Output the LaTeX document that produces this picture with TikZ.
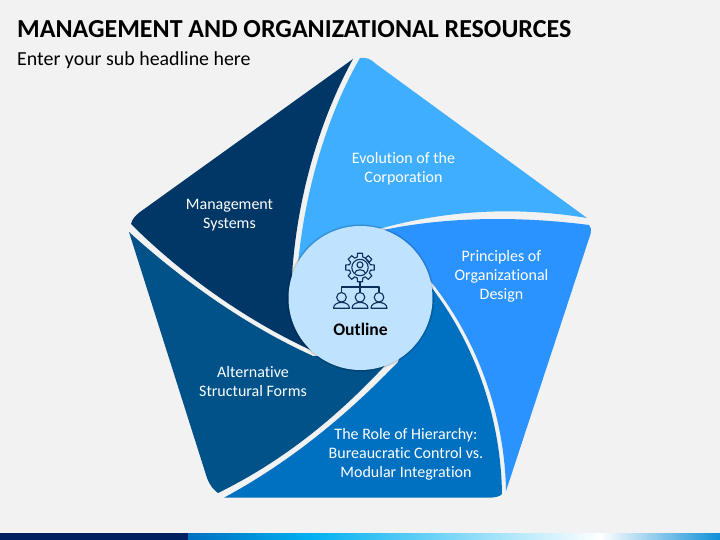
\documentclass[tikz,border=0pt]{standalone}
\usepackage{fontspec}
\setmainfont{Carlito}[Ligatures=NoCommon]
\usetikzlibrary{positioning}
\definecolor{pageback}{HTML}{F2F2F2}
\definecolor{navy}{HTML}{003767}
\definecolor{sky}{HTML}{3FAEFF}
\definecolor{azure}{HTML}{2B93FF}
\definecolor{royal}{HTML}{0070C0}
\definecolor{steel}{HTML}{005288}
\definecolor{hub}{HTML}{BFE3FF}
\definecolor{iconline}{HTML}{0B2F5B}
\definecolor{barnavy}{HTML}{002060}
\definecolor{barcyan}{HTML}{00B0F0}
\definecolor{barend}{HTML}{0F8FD8}
\newcommand\HubX{360.5}
\newcommand\HubY{298}

\begin{document}
\begin{tikzpicture}[x=1pt,y=-1pt,line join=round]

  \tikzstyle{petal label}=[text=white,align=center,font=\fontsize{16}{19.2}\selectfont]
  \tikzstyle{icon}=[draw=iconline,line width=1.1pt,fill=none]

  \useasboundingbox (0,0) rectangle (720,540);
  \fill[pageback] (0,0) rectangle (720,540);

  % bottom bar
  \fill[barnavy] (0,533) rectangle (188,540);
  \shade[left color=royal,right color=barcyan] (188,533) rectangle (310,540);
  \shade[left color=barcyan,right color=white] (310,533) rectangle (600,540);
  \shade[left color=white,right color=barend] (600,533) rectangle (720,540);

  % petals
  \fill[navy] (353,59) -- (140,212)
    .. controls (136,215) and (132,219) .. (131,224)
    .. controls (175,268) and (240,318) .. (315,352)
    -- (292,275)
    .. controls (298,185) and (325,110) .. (353,59) -- cycle;
  \fill[sky] (360,58)
    .. controls (366,57) and (371,59) .. (376,64)
    -- (587,218)
    .. controls (520,207) and (440,207) .. (350,238)
    -- (297,275)
    .. controls (304,185) and (331,108) .. (360,58) -- cycle;
  \fill[azure] (589,225)
    .. controls (591,227) and (591.5,230) .. (590.5,234)
    -- (506,491)
    .. controls (505,425) and (483,345) .. (428,278)
    -- (370,233)
    .. controls (440,216) and (520,216) .. (589,225) -- cycle;
  \fill[royal] (224,497.7) -- (488,497.7)
    .. controls (495,497.7) and (500,496.5) .. (502,494)
    .. controls (501,425) and (479,345) .. (424,278)
    -- (398,362)
    .. controls (346,416) and (290,462) .. (224,497.7) -- cycle;
  \fill[steel] (129,232) -- (207,478)
    .. controls (210,486) and (214,490) .. (218,493)
    .. controls (285,460) and (340,415) .. (392,358)
    -- (313,356)
    .. controls (238,322) and (173,272) .. (129,232) -- cycle;

  % hub with its soft edge
  \foreach \r/\o in {74/.06,73.2/.12}
    \fill[black,opacity=\o] (\HubX,\HubY) circle (\r);
  \node[circle,fill=hub,minimum size=144pt,inner sep=0pt] (hubdisc) at (\HubX,\HubY) {};

  % texts
  \node[anchor=west,inner sep=0pt,font=\bfseries\fontsize{25.95}{30}\selectfont] (headline) at (17,29) {MANAGEMENT AND ORGANIZATIONAL RESOURCES};
  \node[anchor=west,inner sep=0pt,font=\fontsize{19.9}{22}\selectfont] (subline) at (17,60) {Enter your sub headline here};
  \node[petal label] (mgmt) at (229.5,215.5) {Management\\Systems};
  \node[petal label] (evol) at (403.5,168.5) {Evolution of the\\Corporation};
  \node[petal label] (prin) at (501.5,276.5) {Principles of\\Organizational\\Design};
  \node[petal label] (role) at (406,454.5) {The Role of Hierarchy:\\Bureaucratic Control vs.\\Modular Integration};
  \node[petal label] (altr) at (253,381.5) {Alternative\\Structural Forms};
  \node[font=\bfseries\fontsize{17.6}{20}\selectfont] (outl) at (360.5,329) {Outline};

  % gear with person
  \draw[icon] ({360+10.8*cos(-60)},{267.5+10.8*sin(-60)}) \foreach \a in {0,45,...,315}{
      -- ({360+10.8*cos(\a-15)},{267.5+10.8*sin(\a-15)})
      -- ({360+14.5*cos(\a-10)},{267.5+14.5*sin(\a-10)})
      -- ({360+14.5*cos(\a+10)},{267.5+14.5*sin(\a+10)})
      -- ({360+10.8*cos(\a+15)},{267.5+10.8*sin(\a+15)})
    } -- cycle;
  \draw[icon] (360,267.5) circle (8.2);
  \draw[icon] (360,264.8) circle (3);
  \draw[icon] (354.5,273.5) .. controls (355,268.5) and (365,268.5) .. (365.5,273.5);

  % tree below the gear
  \coordinate (stem) at (360,282);
  \coordinate (forkl) at (341.5,287);
  \coordinate (forkr) at (379,287);
  \coordinate (headl) at (341.5,292.5);
  \coordinate (headm) at (360,292.5);
  \coordinate (headr) at (379,292.5);
  \draw[icon] (stem) -- (headm);
  \draw[icon] (headl) -- (forkl) -- (forkr) -- (headr);
  \foreach \x in {341.5,360,379} {
    \draw[icon] (\x,297.3) circle (4.8);
    \draw[icon] (\x-8,308.2) -- (\x+8,308.2) .. controls (\x+8,300.5) and (\x-8,300.5) .. (\x-8,308.2) -- cycle;
  }
\end{tikzpicture}
\end{document}
